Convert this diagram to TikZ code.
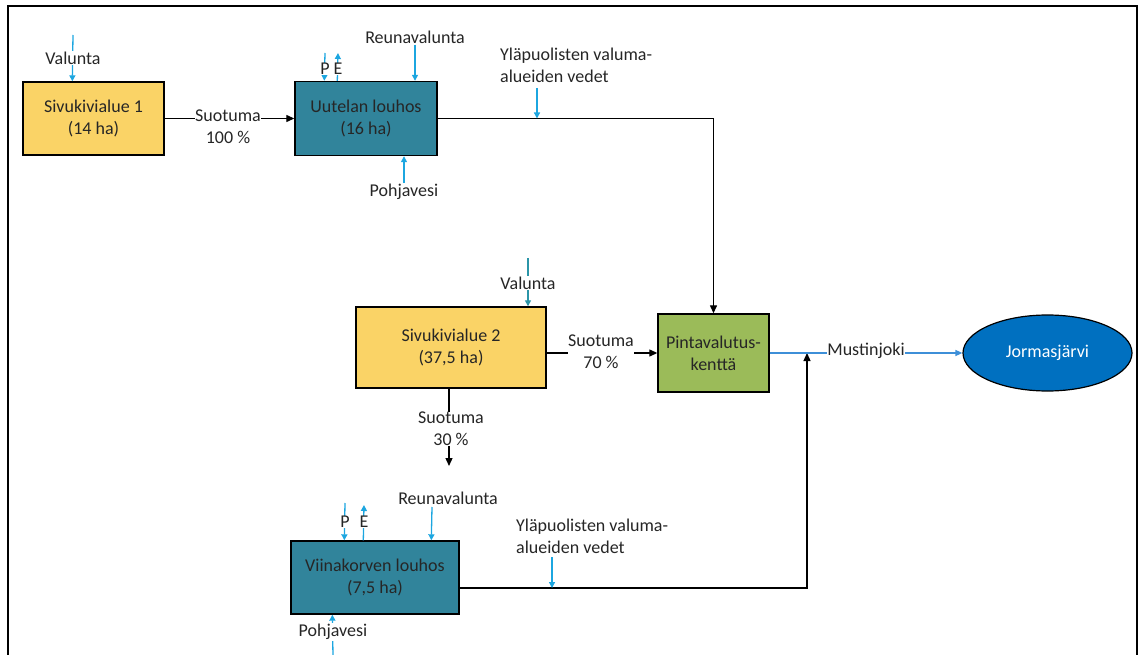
\documentclass[tikz,border=0pt]{standalone}
\usepackage{fontspec}
\setmainfont{Carlito}
\usetikzlibrary{arrows.meta,shapes.geometric}
\definecolor{yel}{HTML}{FAD366}
\definecolor{teal1}{HTML}{31849B}
\definecolor{grn}{HTML}{9BBB59}
\definecolor{lake}{HTML}{0070C0}
\definecolor{cyanar}{HTML}{1CA6E0}
\definecolor{tealar}{HTML}{2B95A8}
\definecolor{riv}{HTML}{3D8FD8}
\definecolor{txt}{HTML}{262626}
\begin{document}
\begin{tikzpicture}[x=1pt,y=-1pt,
  font=\fontsize{18}{22}\selectfont, text=txt,
  box/.style={draw=black, line width=1.4pt, align=center, inner sep=0pt},
  lbl/.style={fill=white, inner sep=1pt, align=center},
  blk/.style={draw=black, line width=1.3pt, -{Triangle[length=8pt,width=7pt]}},
  blu/.style={draw=cyanar, line width=1.3pt, -{Triangle[length=6pt,width=6pt]}},
  tea/.style={draw=tealar, line width=1.3pt, -{Triangle[length=6pt,width=6pt]}},
  mus/.style={draw=riv, line width=1.5pt, -{Triangle[length=7pt,width=6pt]}}]
\useasboundingbox (0,0) rectangle (1144,655);
\draw[line width=2pt] (8,660) -- (8,6) -- (1137,6) -- (1137,660);

% main nodes
\node[box, fill=yel, minimum width=141pt, minimum height=73pt] (s1) at (93.5,118.5) {Sivukivialue 1\\(14 ha)};
\node[box, fill=teal1, minimum width=142pt, minimum height=74pt] (uu) at (366,118.5) {Uutelan louhos\\(16 ha)};
\node[box, fill=yel, minimum width=190pt, minimum height=81pt] (s2) at (451,347.5) {Sivukivialue 2\\(37,5 ha)};
\node[box, fill=grn, minimum width=111pt, minimum height=78pt] (pv) at (713.5,353) {Pintavalutus-\\kenttä};
\node[box, fill=teal1, minimum width=168pt, minimum height=73pt] (vk) at (375,577.5) {Viinakorven louhos\\(7,5 ha)};
\node[draw=black, line width=1.2pt, fill=lake, ellipse, minimum width=169pt, minimum height=76pt, inner sep=0pt, text=white] (jo) at (1047.5,353) {Jormasjärvi};

% free ends
\coordinate (v1s) at (73,35);
\coordinate (pu1s) at (325,53);
\coordinate (eu1e) at (338,53);
\coordinate (y1s) at (537,88);
\coordinate (y1e) at (537,118.5);
\coordinate (v2s) at (528,258);
\coordinate (s30e) at (449,466);
\coordinate (j2) at (807,353);
\coordinate (pv2s) at (345,503);
\coordinate (ev2e) at (364,505);
\coordinate (rv2s) at (432,507);
\coordinate (ph2s) at (333,656);
\coordinate (y2s) at (552,557);
\coordinate (y2e) at (552,588);

% connectors
\draw[blk] (s1.east) -- (uu.west);
\draw[blk] (uu.east) -| (pv.north);
\draw[blk] (s2.east |- pv.west) -- (pv.west);
\draw[blk] ([xshift=-2pt]s2.south) -- (s30e);
\draw[blk] ([yshift=-10.5pt]vk.east) -| (j2);
\draw[mus] (pv.east) -- (jo.west);

\draw[blu] (v1s) -- ([xshift=50pt]s1.north west);
\draw[blu] (pu1s) -- ([xshift=30pt]uu.north west);
\draw[blu] ([xshift=43pt]uu.north west) -- (eu1e);
\draw[blu] (y1s) -- (y1e);
\draw[tea] (v2s) -- ([xshift=77pt]s2.north);
\draw[blu] (pv2s) -- ([xshift=54pt]vk.north west);
\draw[blu] ([xshift=73pt]vk.north west) -- (ev2e);
\draw[blu] (rv2s) -- ([xshift=141pt]vk.north west);
\draw[blu] (ph2s) -- ([xshift=42pt]vk.south west);
\draw[blu] (y2s) -- (y2e);

% labels
\node[lbl] (lv1) at (73,58) {Valunta};
\node[lbl, inner sep=0.5pt] (lp1) at (325,69) {P};
\node[lbl, inner sep=0.5pt] (le1) at (338,69) {E};
\node[lbl] (lr1) at (415,37) {Reunavalunta};
\draw[blu] (lr1.south) -- (lr1.south |- uu.north);
\node[lbl] (lpo1) at (404,192) {Pohjavesi};
\draw[blu] (lpo1.north) -- (lpo1.north |- uu.south);
\node[lbl, align=left, anchor=west] (ly1) at (499,65) {Yläpuolisten valuma-\\alueiden vedet};
\node[lbl, inner sep=0.5pt] (ls1) at (228,127) {Suotuma\\100 \%};
\node[lbl] (lv2) at (528,283) {Valunta};
\node[lbl, inner sep=0.5pt] (ls2) at (601,352) {Suotuma\\70 \%};
\node[lbl, inner sep=0.5pt] (ls3) at (451,429) {Suotuma\\30 \%};
\node[lbl, inner sep=0pt] (lmu) at (866,351) {Mustinjoki};
\node[lbl, inner sep=0.5pt] (lp2) at (345,522) {P};
\node[lbl, inner sep=0.5pt] (le2) at (364,522) {E};
\node[lbl] (lr2) at (448,498) {Reunavalunta};
\node[lbl] (lpo2) at (333,632) {Pohjavesi};
\node[lbl, align=left, anchor=west] (ly2) at (515,536) {Yläpuolisten valuma-\\alueiden vedet};
\end{tikzpicture}
\end{document}
